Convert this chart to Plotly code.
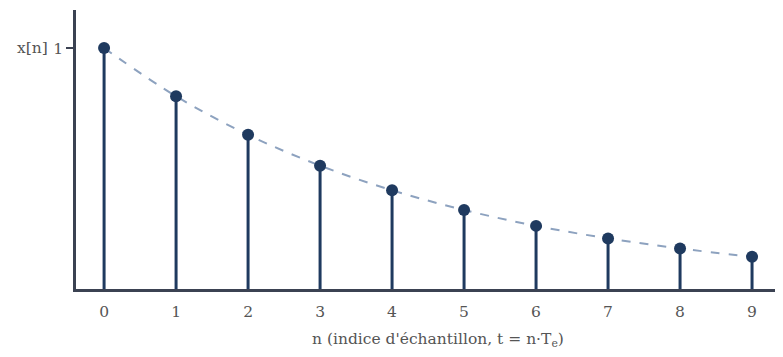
import plotly.graph_objects as go

n = [0, 1, 2, 3, 4, 5, 6, 7, 8, 9]
x_n = [1.0, 0.8, 0.64, 0.512, 0.41, 0.328, 0.262, 0.21, 0.168, 0.134]
x_ticks = [str(i) for i in n]

STEM = "#1f3a5f"
DASH = "#8da2bf"
AXIS = "#3b4252"
TEXT = "#555555"
FONT = "DejaVu Serif, Liberation Serif, serif"
FS = 15.5

stem_x, stem_y = [], []
for xi, yi in zip(n, x_n):
    stem_x += [xi, xi, None]
    stem_y += [0, yi, None]

fig = go.Figure()
fig.add_trace(go.Scatter(x=n, y=x_n, mode="lines", line=dict(color=DASH, width=2, dash="dash", shape="spline"),
                         hoverinfo="skip", showlegend=False))
fig.add_trace(go.Scatter(x=stem_x, y=stem_y, mode="lines", line=dict(color=STEM, width=3),
                         hoverinfo="skip", showlegend=False))
fig.add_trace(go.Scatter(x=n, y=x_n, mode="markers", marker=dict(color=STEM, size=12),
                         showlegend=False))

fig.update_layout(
    width=775, height=349,
    margin=dict(l=68, r=0, t=2, b=68),
    paper_bgcolor="white", plot_bgcolor="white",
    font=dict(family=FONT, size=FS, color=TEXT),
    xaxis=dict(range=[-0.39, 9.43], tickvals=n, ticktext=x_ticks, showgrid=False, zeroline=False,
               automargin=False,
               showline=True, linecolor=AXIS, linewidth=2.5, ticks="", ticklabelstandoff=7,
               tickfont=dict(family=FONT, size=FS, color=TEXT)),
    yaxis=dict(range=[0, 1.158], tickvals=[1], ticktext=["1"], showgrid=False, zeroline=False,
               automargin=False,
               showline=True, linecolor=AXIS, linewidth=2.5, ticks="outside", ticklen=7,
               tickcolor=AXIS, tickwidth=2, ticklabelstandoff=0,
               tickfont=dict(family=FONT, size=FS, color=TEXT)),
)
fig.add_annotation(text="x[n]", xref="paper", yref="y", x=0, y=1, xshift=-26, xanchor="right",
                   yanchor="middle", showarrow=False, font=dict(family=FONT, size=FS, color=TEXT))
fig.add_annotation(text="n (indice d'échantillon, t = n·T<sub>e</sub>)", xref="paper", yref="paper",
                   x=0.512, y=0, yshift=-51, xanchor="center", yanchor="middle", showarrow=False,
                   font=dict(family=FONT, size=FS, color=TEXT))

fig.write_html("out.html")
